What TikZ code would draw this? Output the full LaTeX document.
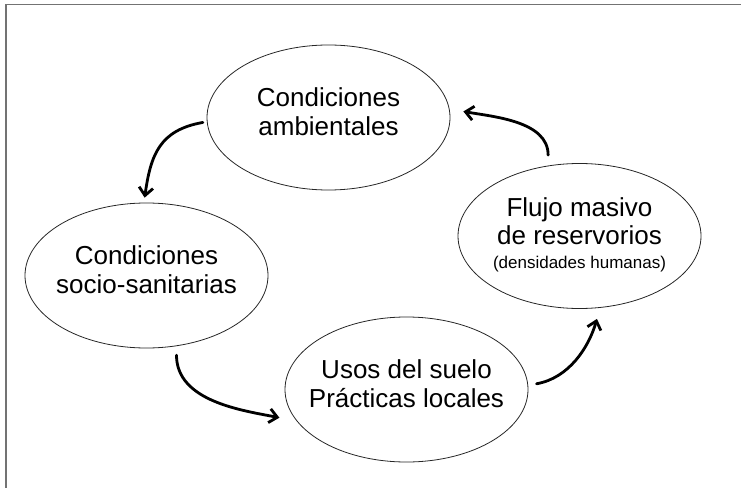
\documentclass[tikz,border=0pt]{standalone}
\usepackage{fontspec}
\setmainfont{Liberation Sans}
\usetikzlibrary{shapes.geometric,arrows.meta}

\begin{document}
\begin{tikzpicture}[x=1pt,y=1pt,>={Straight Barb[length=8pt,width=14pt]},
oval/.style={ellipse,draw=black!85,line width=0.8pt,
minimum width=243pt,minimum height=145pt,inner xsep=-14pt,inner ysep=0pt,
align=center,text depth=12pt,font=\fontsize{26}{28.5}\selectfont},
curva/.style={->,line width=2.8pt,line cap=round}]
\useasboundingbox (0,0) rectangle (741,488);
\draw[black!55,line width=1.5pt] (741,483.5) -- (6,483.5) -- (6,0);

\node[oval] (amb) at (328.5,370.5) {Condiciones\\ambientales};
\node[oval] (soc) at (146.5,212.5) {Condiciones\\socio-sanitarias};
\node[oval] (usos) at (406.5,98.5) {Usos del suelo\\Pr\'acticas locales};
\node[oval,text depth=6pt] (flujo) at (579.5,252)
  {Flujo masivo\\de reservorios\\[-5pt]{\fontsize{17}{20}\selectfont(densidades humanas)}};

\draw[curva,shorten <=4pt,shorten >=5pt] (amb.182) to[out=190,in=82,looseness=1.2] (soc.92);
\draw[curva,shorten <=9pt,shorten >=17.5pt] (soc.-67) to[out=270,in=169] (usos.196);
\draw[curva,shorten <=8.5pt,shorten >=11.5pt] (usos.2) to[out=10,in=254] (flujo.-74);
\draw[curva,shorten <=10.5pt,shorten >=14pt] (flujo.114) to[out=90,in=-10] (amb.4);
\end{tikzpicture}
\end{document}
